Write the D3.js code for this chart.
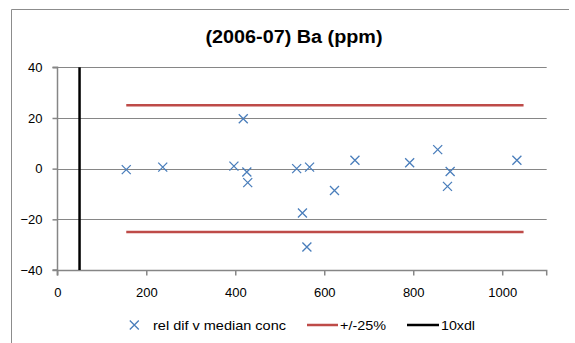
<!DOCTYPE html>
<html><head><meta charset="utf-8">
<script src="https://cdn.jsdelivr.net/npm/d3@7"></script>
<style>body{margin:0;background:#fff}svg{display:block}text{font-family:"Liberation Sans",Arial,sans-serif}</style>
</head><body><svg id="c" width="575" height="343"></svg>
<script>
const title = "(2006-07) Ba (ppm)";
const concs = [155, 237, 397, 418, 426, 428, 538, 551, 561, 567, 623, 669, 792, 855, 877, 883, 1033];
const relDif = [-0.4, 0.6, 1.0, 19.7, -1.3, -5.5, 0.0, -17.5, -30.9, 0.6, -8.6, 3.3, 2.3, 7.5, -7.0, -1.1, 3.3];
const limitX = [155, 1048];
const upperLimit = [25, 25];
const lowerLimit = [-25, -25];
const dlX = [50, 50];
const dlY = [-40, 40];
const xTicks = [0, 200, 400, 600, 800, 1000];
const yTicks = [-40, -20, 0, 20, 40];
const legendLabels = ["rel dif v median conc", "+/-25%", "10xdl"];

const svg = d3.select("#c");
const x = d3.scaleLinear().domain([0, 1100]).range([57.3, 546.7]);
const y = d3.scaleLinear().domain([-40, 40]).range([270, 67.3]);

// chart border (top and left visible)
svg.append("path").attr("d", "M11.5,343V9.5H569")
  .attr("fill", "none").attr("stroke", "#8c8c8c").attr("stroke-width", 1);

// title
svg.append("text").attr("x", 294).attr("y", 43).attr("text-anchor", "middle")
  .attr("font-size", 18).attr("font-weight", "bold").attr("fill", "#000")
  .attr("textLength", 177).attr("lengthAdjust", "spacingAndGlyphs").text(title);

// gridlines
svg.append("g").selectAll("line").data(yTicks.filter(d => d !== -40)).join("line")
  .attr("x1", x(0)).attr("x2", x(1100)).attr("y1", d => Math.round(y(d)) + 0.5).attr("y2", d => Math.round(y(d)) + 0.5)
  .attr("stroke", "#868686").attr("stroke-width", 1);

// axes
const yAxis = d3.axisLeft(y).tickValues(yTicks).tickSize(5).tickPadding(10).tickFormat(d3.format("d"));
const gy = svg.append("g").attr("transform", `translate(${Math.round(x(0)) + 0.5},0)`).call(yAxis);
const xAxis = d3.axisBottom(x).tickValues(xTicks).tickSize(5).tickPadding(12).tickFormat(d3.format("d"));
const gx = svg.append("g").attr("transform", `translate(0,${Math.round(y(-40)) + 0.5})`).call(xAxis);
[gx, gy].forEach(g => {
  g.select(".domain").attr("stroke", "#868686").attr("stroke-width", 1.5);
  g.selectAll(".tick line").attr("stroke", "#868686").attr("stroke-width", 1.5);
  g.selectAll(".tick text").attr("font-family", "Liberation Sans, Arial, sans-serif").attr("font-size", 13).attr("fill", "#000");
});
gy.select(".domain").attr("d", `M-5,${y(40)}H0V${y(-40)}H-5`);
gx.select(".domain").attr("d", `M${x(0)},5V0H${x(1100)}V5`);

// 10xdl line
const line = d3.line().x(d => x(d[0])).y(d => y(d[1]));
svg.append("path").attr("d", line(d3.zip(dlX, dlY))).attr("stroke", "#000").attr("stroke-width", 2.5).attr("fill", "none");

// limit lines
svg.append("path").attr("d", line(d3.zip(limitX, upperLimit))).attr("stroke", "#be4b48").attr("stroke-width", 2.5).attr("fill", "none");
svg.append("path").attr("d", line(d3.zip(limitX, lowerLimit))).attr("stroke", "#be4b48").attr("stroke-width", 2.5).attr("fill", "none");

// points
const s = 4.5;
const cross = `M${-s},${-s}L${s},${s}M${-s},${s}L${s},${-s}`;
svg.append("g").selectAll("path").data(d3.zip(concs, relDif)).join("path")
  .attr("transform", d => `translate(${x(d[0])},${y(d[1])})`)
  .attr("d", cross).attr("stroke", "#4a7ebb").attr("stroke-width", 1.3).attr("fill", "none");

// legend
const lg = svg.append("g").attr("font-size", 13);
lg.append("path").attr("transform", "translate(134.3,325)").attr("d", cross).attr("stroke", "#4a7ebb").attr("stroke-width", 1.3);
lg.append("text").attr("x", 153).attr("y", 329.5).attr("textLength", 133).attr("lengthAdjust", "spacingAndGlyphs").text(legendLabels[0]);
lg.append("line").attr("x1", 307).attr("x2", 338).attr("y1", 325).attr("y2", 325).attr("stroke", "#be4b48").attr("stroke-width", 2.5);
lg.append("text").attr("x", 340).attr("y", 329.5).attr("textLength", 46).attr("lengthAdjust", "spacingAndGlyphs").text(legendLabels[1]);
lg.append("line").attr("x1", 407).attr("x2", 439).attr("y1", 325).attr("y2", 325).attr("stroke", "#000").attr("stroke-width", 2.5);
lg.append("text").attr("x", 441).attr("y", 329.5).attr("textLength", 34).attr("lengthAdjust", "spacingAndGlyphs").text(legendLabels[2]);
</script></body></html>
